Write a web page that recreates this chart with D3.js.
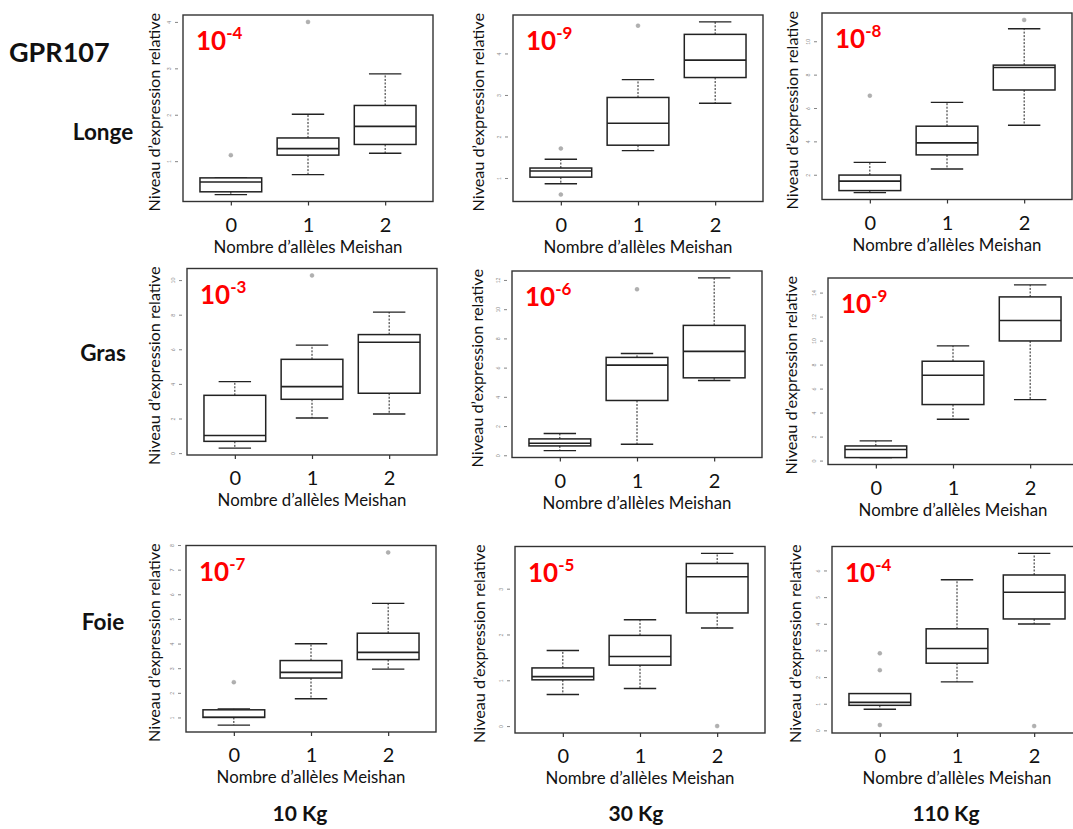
<!DOCTYPE html>
<html>
<head>
<meta charset="utf-8">
<script src="https://cdn.jsdelivr.net/npm/d3@7"></script>
<style>
  html, body { margin: 0; padding: 0; background: #fff; }
  svg { display: block; }
  text { font-family: Lato, "Open Sans", sans-serif; }
</style>
</head>
<body>
<svg id="chart" width="1073" height="829"></svg>
<script>
// ---------- DATA ----------
const gene = "GPR107";
const tissues = ["Longe", "Gras", "Foie"];
const weights = ["10 Kg", "30 Kg", "110 Kg"];
const alleles = ["0", "1", "2"];
const xTitle = "Nombre d\u2019all\u00e8les Meishan";
const yTitle = "Niveau d\u2019expression relative";

// scale exponent per panel, rows = tissues, cols = weights
const exponents = [[-4, -9, -8], [-3, -6, -9], [-7, -5, -4]];

// box stats per allele group: [whisker low, Q1, median, Q3, whisker high]
const longe10Stats  = [[0.28, 0.34, 0.55, 0.64, 0.64], [0.71, 1.13, 1.27, 1.50, 2.01], [1.17, 1.36, 1.75, 2.20, 2.88]];
const longe30Stats  = [[0.86, 1.02, 1.17, 1.24, 1.45], [1.66, 1.79, 2.32, 2.94, 3.37], [2.80, 3.42, 3.84, 4.46, 4.76]];
const longe110Stats = [[0.93, 1.05, 1.62, 1.98, 2.74], [2.34, 3.19, 3.91, 4.91, 6.34], [4.97, 7.08, 8.43, 8.57, 10.75]];
const gras10Stats   = [[0.29, 0.68, 1.02, 3.34, 4.13], [2.03, 3.11, 3.84, 5.42, 6.24], [2.26, 3.46, 6.41, 6.85, 8.15]];
const gras30Stats   = [[0.32, 0.64, 0.82, 1.12, 1.49], [0.75, 3.75, 6.17, 6.70, 6.97], [5.12, 5.30, 7.11, 8.89, 12.14]];
const gras110Stats  = [[0.25, 0.25, 0.92, 1.22, 1.64], [3.44, 4.67, 7.11, 8.28, 9.56], [5.08, 9.97, 11.67, 13.64, 14.64]];
const foie10Stats   = [[0.69, 1.00, 1.01, 1.31, 1.35], [1.76, 2.60, 2.83, 3.31, 3.99], [2.96, 3.35, 3.64, 4.42, 5.63]];
const foie30Stats   = [[0.69, 1.01, 1.08, 1.27, 1.65], [0.82, 1.33, 1.52, 1.98, 2.32], [2.14, 2.47, 3.26, 3.55, 3.77]];
const foie110Stats  = [[0.79, 0.94, 1.05, 1.38, 1.38], [1.82, 2.52, 3.07, 3.81, 5.65], [3.99, 4.18, 5.18, 5.83, 6.64]];

// outliers per allele group
const longe10Out  = [[1.13], [4.00], []];
const longe30Out  = [[0.60, 1.71], [4.67], []];
const longe110Out = [[6.74], [], [11.28]];
const gras10Out   = [[], [10.27], []];
const gras30Out   = [[], [11.36], []];
const gras110Out  = [[], [], []];
const foie10Out   = [[2.43], [], [7.70]];
const foie30Out   = [[], [], [0.00]];
const foie110Out  = [[0.20, 2.26, 2.89], [], [0.16]];

// y tick values per panel
const longe10Ticks  = [1, 2, 3, 4];
const longe30Ticks  = [1, 2, 3, 4];
const longe110Ticks = [2, 4, 6, 8, 10];
const gras10Ticks   = [0, 2, 4, 6, 8, 10];
const gras30Ticks   = [0, 2, 4, 6, 8, 10, 12];
const gras110Ticks  = [0, 2, 4, 6, 8, 10, 12, 14];
const foie10Ticks   = [1, 2, 3, 4, 5, 6, 7, 8];
const foie30Ticks   = [0, 1, 2, 3];
const foie110Ticks  = [0, 1, 2, 3, 4, 5, 6];

const statsGrid = [[longe10Stats, longe30Stats, longe110Stats], [gras10Stats, gras30Stats, gras110Stats], [foie10Stats, foie30Stats, foie110Stats]];
const outGrid   = [[longe10Out, longe30Out, longe110Out], [gras10Out, gras30Out, gras110Out], [foie10Out, foie30Out, foie110Out]];
const tickGrid  = [[longe10Ticks, longe30Ticks, longe110Ticks], [gras10Ticks, gras30Ticks, gras110Ticks], [foie10Ticks, foie30Ticks, foie110Ticks]];

// ---------- LAYOUT (plot frames: left, top, y-title offset) ----------
const frames = [
  [[183, 15, -28], [513, 15, -34], [822, 13, -29]],
  [[187, 268.5, -32], [512, 271, -34], [828, 278, -36]],
  [[186, 545.5, -31], [515, 546.5, -35], [832, 546.5, -36]]
];
const plotW = 250, plotH = 186.5;

const svg = d3.select("#chart");

// global labels
svg.append("text").attr("x", 9).attr("y", 62).attr("font-size", 27).attr("font-weight", 700).attr("fill", "#111").text(gene);
const rowLabelY = [140, 361, 630];
tissues.forEach((t, i) => {
  svg.append("text").attr("x", 103).attr("y", rowLabelY[i]).attr("text-anchor", "middle")
    .attr("font-size", 22.5).attr("font-weight", 700).attr("fill", "#111").text(t);
});
const colLabelX = [300, 636, 946];
weights.forEach((w, j) => {
  svg.append("text").attr("x", colLabelX[j]).attr("y", 821).attr("text-anchor", "middle")
    .attr("font-size", 21).attr("font-weight", 700).attr("fill", "#111").text(w);
});

for (let r = 0; r < 3; r++) {
  for (let c = 0; c < 3; c++) {
    const [left, top, yOff] = frames[r][c];
    const stats = statsGrid[r][c], outs = outGrid[r][c], ticks = tickGrid[r][c];
    const allVals = stats.flat().concat(outs.flat());
    const lo = d3.min(allVals), hi = d3.max(allVals), pad = (hi - lo) * 0.04;
    const y = d3.scaleLinear().domain([lo - pad, hi + pad]).range([plotH, 0]);
    const x = d3.scaleLinear().domain([0.38, 3.62]).range([0, plotW]);
    const g = svg.append("g").attr("transform", `translate(${left},${top})`);

    // frame
    g.append("rect").attr("x", 0).attr("y", 0).attr("width", plotW).attr("height", plotH)
      .attr("fill", "none").attr("stroke", "#333").attr("stroke-width", 1.4);

    // y axis (tiny rotated labels)
    const ya = g.append("g").attr("transform", "translate(-5,0)")
      .call(d3.axisLeft(y).tickValues(ticks).tickSize(3).tickFormat(d3.format("d")));
    ya.select(".domain").remove();
    ya.selectAll(".tick line").attr("stroke", "#666").attr("stroke-width", 0.8);
    ya.selectAll(".tick text").attr("x", 0).attr("dy", 0).attr("y", 0)
      .attr("transform", "translate(-7,0) rotate(-90)").attr("text-anchor", "middle")
      .attr("font-size", 5).attr("fill", "#888").attr("font-family", "Lato");

    // x axis
    const xa = g.append("g").attr("transform", `translate(0,${plotH})`)
      .call(d3.axisBottom(x).tickValues([1, 2, 3]).tickSize(4).tickFormat((d, i) => alleles[i]));
    xa.select(".domain").remove();
    xa.selectAll(".tick line").attr("stroke", "#333").attr("stroke-width", 1.2);
    xa.selectAll(".tick text").attr("y", 30).attr("dy", 0).attr("font-size", 20)
      .attr("fill", "#111").attr("font-family", "Lato");

    // titles
    g.append("text").attr("x", plotW / 2).attr("y", plotH + 51).attr("text-anchor", "middle")
      .attr("font-size", 16.8).attr("fill", "#111").text(xTitle);
    g.append("text").attr("transform", `translate(${yOff + 5},${plotH / 2 + 4}) rotate(-90)`)
      .attr("text-anchor", "middle").attr("font-size", 16.2).attr("fill", "#111").text(yTitle);

    // red exponent label
    const lab = g.append("text").attr("x", 13).attr("y", 35).attr("fill", "#ff0000")
      .attr("font-weight", 700).attr("font-family", "Lato");
    lab.append("tspan").attr("font-size", 26).text("10");
    lab.append("tspan").attr("font-size", 17).attr("dy", -11).text(String(exponents[r][c]));

    // boxes
    const bw = 0.8, sw = 0.42;
    stats.forEach((s, i) => {
      const cx = x(i + 1);
      const [wl, q1, med, q3, wh] = s;
      const bg = g.append("g");
      // whiskers dashed
      bg.append("line").attr("x1", cx).attr("x2", cx).attr("y1", y(q3)).attr("y2", y(wh))
        .attr("stroke", "#222").attr("stroke-width", 1).attr("stroke-dasharray", "2,1.5");
      bg.append("line").attr("x1", cx).attr("x2", cx).attr("y1", y(q1)).attr("y2", y(wl))
        .attr("stroke", "#222").attr("stroke-width", 1).attr("stroke-dasharray", "2,1.5");
      // staples
      [wl, wh].forEach(v => {
        bg.append("line").attr("x1", x(i + 1 - sw / 2)).attr("x2", x(i + 1 + sw / 2))
          .attr("y1", y(v)).attr("y2", y(v)).attr("stroke", "#222").attr("stroke-width", 1.4);
      });
      // box
      bg.append("rect").attr("x", x(i + 1 - bw / 2)).attr("width", x(i + 1 + bw / 2) - x(i + 1 - bw / 2))
        .attr("y", y(q3)).attr("height", Math.max(0.5, y(q1) - y(q3)))
        .attr("fill", "#fff").attr("stroke", "#222").attr("stroke-width", 1.5);
      // median
      bg.append("line").attr("x1", x(i + 1 - bw / 2)).attr("x2", x(i + 1 + bw / 2))
        .attr("y1", y(med)).attr("y2", y(med)).attr("stroke", "#222").attr("stroke-width", 1.6);
      // outliers
      outs[i].forEach(v => {
        bg.append("circle").attr("cx", cx).attr("cy", y(v)).attr("r", 2)
          .attr("fill", "#b0b0b0").attr("stroke", "#999").attr("stroke-width", 0.4);
      });
    });
  }
}
</script>
</body>
</html>
